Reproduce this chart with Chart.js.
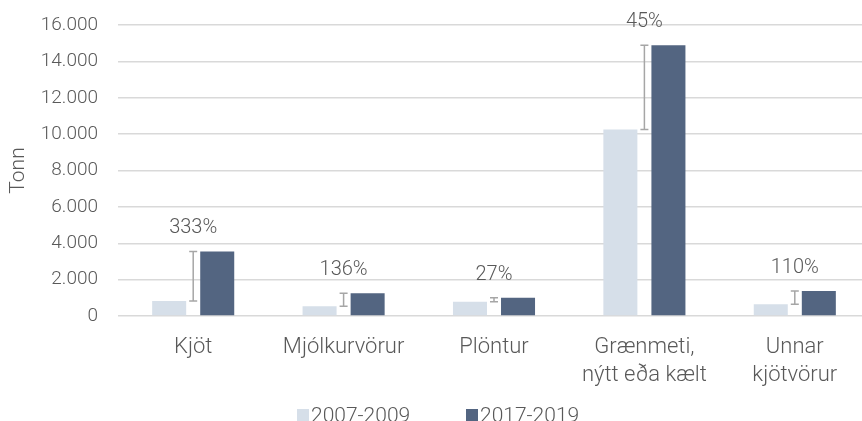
<!DOCTYPE html>
<html><head><meta charset="utf-8">
<script src="https://cdn.jsdelivr.net/npm/chart.js@4/dist/chart.umd.min.js"></script>
<style>
html,body{margin:0;padding:0;background:#fff;overflow:hidden;}
#wrap{width:862px;height:421px;overflow:hidden;position:relative;}
#c{position:absolute;left:0;top:0;}
</style></head>
<body><div id="wrap"><canvas id="c" width="870" height="421"></canvas></div>
<script>
const categories = [["Kjöt"], ["Mjólkurvörur"], ["Plöntur"], ["Grænmeti,", "nýtt eða kælt"], ["Unnar", "kjötvörur"]];
const series1Name = "2007-2009";
const series2Name = "2017-2019";
const values2007 = [820, 530, 790, 10250, 650];
const values2017 = [3550, 1250, 1005, 14880, 1370];
const changeLabels = ["333%", "136%", "27%", "45%", "110%"];
const yTicks = [0, 2000, 4000, 6000, 8000, 10000, 12000, 14000, 16000];

const FONT = "Roboto, sans-serif";
const TXT = "#595959";
const COL1 = '#d6dfe9', COL2 = '#536581';

const changePlugin = {
  id: 'changePlugin',
  afterDatasetsDraw(chart) {
    const ctx = chart.ctx;
    const x = chart.scales.x, y = chart.scales.y;
    ctx.save();
    for (let i = 0; i < categories.length; i++) {
      const cx = x.getPixelForValue(i);
      const y1 = y.getPixelForValue(values2007[i]);
      const y2 = y.getPixelForValue(values2017[i]);
      ctx.strokeStyle = '#a6a6a6';
      ctx.lineWidth = 1.5;
      ctx.beginPath();
      ctx.moveTo(cx, y1); ctx.lineTo(cx, y2);
      ctx.moveTo(cx - 4, y1); ctx.lineTo(cx + 4, y1);
      ctx.moveTo(cx - 4, y2); ctx.lineTo(cx + 4, y2);
      ctx.stroke();
      ctx.fillStyle = TXT;
      ctx.font = "300 20px " + FONT;
      ctx.textAlign = 'center';
      ctx.textBaseline = 'middle';
      ctx.fillText(changeLabels[i], cx, Math.min(y1, y2) - 23);
    }
    ctx.restore();
  }
};

const legendPlugin = {
  id: 'customLegend',
  afterDraw(chart) {
    const ctx = chart.ctx;
    ctx.save();
    ctx.font = "300 21px " + FONT;
    ctx.textBaseline = 'alphabetic';
    ctx.textAlign = 'left';
    const items = [[series1Name, COL1], [series2Name, COL2]];
    const starts = [297, 466];
    items.forEach((it, k) => {
      ctx.fillStyle = it[1];
      ctx.fillRect(starts[k], 409, 12, 12);
      ctx.fillStyle = TXT;
      ctx.fillText(it[0], starts[k] + 14, 422);
    });
    ctx.restore();
  }
};

new Chart(document.getElementById('c'), {
  type: 'bar',
  data: {
    labels: categories,
    datasets: [
      { label: series1Name, data: values2007, backgroundColor: COL1, categoryPercentage: 0.639, barPercentage: 0.708 },
      { label: series2Name, data: values2017, backgroundColor: COL2, categoryPercentage: 0.639, barPercentage: 0.708 }
    ]
  },
  options: {
    responsive: false,
    animation: false,
    devicePixelRatio: 1,
    layout: { padding: { top: 25, right: 0, left: 0, bottom: 0 } },
    plugins: {
      tooltip: { enabled: false },
      legend: { display: false }
    },
    scales: {
      x: {
        afterFit(axis) { axis.height = 105; axis.paddingLeft = 0; axis.paddingRight = 0; },
        grid: { display: false, drawTicks: false },
        border: { display: false },
        ticks: { font: { family: FONT, size: 22, weight: 300, lineHeight: 1.3 }, color: TXT, padding: 17, maxRotation: 0, autoSkip: false }
      },
      y: {
        min: 0, max: 16000,
        afterFit(axis) { axis.width = 118; axis.paddingTop = 0; axis.paddingBottom = 0; },
        afterBuildTicks(axis) { axis.ticks = yTicks.map(v => ({ value: v })); },
        grid: { color: '#d9d9d9', lineWidth: 1.5, drawTicks: false },
        border: { display: false },
        ticks: {
          font: { family: FONT, size: 19, weight: 300 }, color: TXT, padding: 20,
          callback: v => v.toLocaleString('de-DE')
        },
        title: { display: true, text: 'Tonn', font: { family: FONT, size: 21, weight: 300 }, color: TXT, padding: { top: 6, bottom: 6 } }
      }
    }
  },
  plugins: [changePlugin, legendPlugin]
});
</script></body></html>
